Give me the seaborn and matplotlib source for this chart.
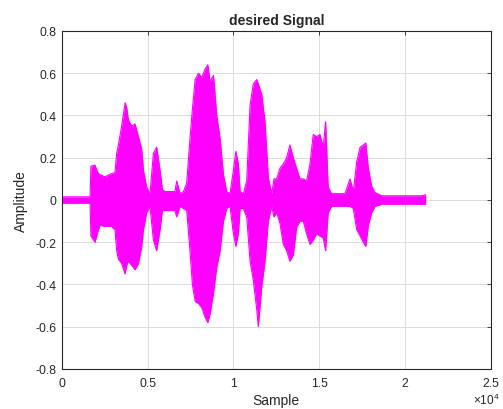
import matplotlib
matplotlib.use("Agg")
import matplotlib.pyplot as plt
import seaborn as sns
import numpy as np
import pandas as pd

# envelope of the waveform (sample index, upper / lower amplitude)
sample = [0, 1650, 1700, 1940, 2100, 2230, 2520, 2900, 3100, 3200, 3300, 3490,
          3690, 3780, 3880, 4080, 4270, 4470, 4660, 4760, 4950, 5140, 5340, 5530,
          5730, 5860, 6010, 6590, 6700, 6890, 7090, 7280, 7480, 7610, 7771, 7965,
          8160, 8350, 8510, 8640, 8840, 9030, 9225, 9420, 9610, 9800, 10000, 10140,
          10290, 10390, 10580, 10775, 10970, 11160, 11360, 11450, 11650, 11840, 12035, 12230,
          12365, 12520, 12710, 12905, 13100, 13290, 13490, 13680, 13875, 14070, 14260, 14460,
          14650, 14845, 15040, 15230, 15370, 15520, 15720, 16500, 16790, 16985, 17180, 17380,
          17570, 17710, 17860, 18055, 18250, 18640, 20970, 21200]
upper = [0.015, 0.015, 0.16, 0.165, 0.13, 0.12, 0.11, 0.125, 0.13, 0.22, 0.26, 0.35,
         0.46, 0.44, 0.38, 0.35, 0.36, 0.30, 0.24, 0.14, 0.06, 0.03, 0.22, 0.25,
         0.14, 0.05, 0.04, 0.04, 0.09, 0.03, 0.04, 0.08, 0.30, 0.43, 0.57, 0.60,
         0.58, 0.62, 0.64, 0.56, 0.59, 0.40, 0.29, 0.12, 0.04, 0.03, 0.14, 0.23,
         0.17, 0.04, 0.03, 0.09, 0.45, 0.55, 0.57, 0.55, 0.50, 0.37, 0.105, 0.03,
         0.10, 0.10, 0.15, 0.17, 0.20, 0.26, 0.20, 0.15, 0.10, 0.10, 0.09, 0.17,
         0.31, 0.30, 0.31, 0.25, 0.37, 0.06, 0.03, 0.03, 0.10, 0.04, 0.18, 0.25,
         0.26, 0.27, 0.15, 0.065, 0.035, 0.02, 0.02, 0.025]
lower = [-0.015, -0.015, -0.17, -0.20, -0.15, -0.12, -0.125, -0.125, -0.14, -0.24, -0.28, -0.30,
         -0.35, -0.31, -0.29, -0.31, -0.33, -0.30, -0.22, -0.14, -0.06, -0.03, -0.19, -0.24,
         -0.14, -0.05, -0.05, -0.05, -0.08, -0.03, -0.04, -0.05, -0.25, -0.40, -0.48, -0.49,
         -0.51, -0.555, -0.58, -0.54, -0.44, -0.32, -0.24, -0.10, -0.04, -0.03, -0.16, -0.22,
         -0.16, -0.04, -0.04, -0.08, -0.29, -0.38, -0.52, -0.60, -0.41, -0.29, -0.10, -0.03,
         -0.08, -0.06, -0.11, -0.21, -0.24, -0.29, -0.26, -0.13, -0.10, -0.10, -0.16, -0.21,
         -0.19, -0.16, -0.17, -0.18, -0.24, -0.06, -0.03, -0.03, -0.03, -0.04, -0.14, -0.17,
         -0.20, -0.22, -0.12, -0.06, -0.03, -0.02, -0.02, -0.02]

xticks = [0, 5000, 10000, 15000, 20000, 25000]
yticks = [-0.8, -0.6, -0.4, -0.2, 0, 0.2, 0.4, 0.6, 0.8]

sns.set_style("white")
plt.rcParams['font.family'] = ['Liberation Sans', 'DejaVu Sans']
plt.rcParams['axes.unicode_minus'] = False
plt.rcParams['mathtext.fontset'] = 'custom'
plt.rcParams['mathtext.rm'] = 'Liberation Sans'

fig = plt.figure(figsize=(5.03, 4.10), dpi=100)
ax = fig.add_axes([0.1227, 0.0976, 0.976 - 0.1227, 0.922 - 0.0976])

df = pd.DataFrame({'Sample': sample + sample,
                   'Amplitude': upper + lower,
                   'edge': ['upper'] * len(sample) + ['lower'] * len(sample)})

ax.fill_between(sample, lower, upper, color='#ff00ff', linewidth=0)
sns.lineplot(data=df, x='Sample', y='Amplitude', units='edge', estimator=None,
             color='#ff00ff', linewidth=0.8, ax=ax, legend=False)

ax.set_xlim(0, 25000)
ax.set_ylim(-0.8, 0.8)
ax.set_xticks(xticks)
ax.set_xticklabels(['%g' % (t / 1e4) for t in xticks])
ax.set_yticks(yticks)
ax.set_yticklabels(['%g' % t for t in yticks])

ax.grid(True, color='#dcdcdc', linewidth=0.7)
ax.set_axisbelow(True)
for sp in ax.spines.values():
    sp.set_color('#262626')
    sp.set_linewidth(0.8)
ax.tick_params(direction='in', length=3, width=0.6, colors='#262626',
               labelsize=8.8, top=True, right=True)
ax.tick_params(axis='x', pad=6)
ax.tick_params(axis='y', pad=4)

ax.set_xlabel('Sample', fontsize=10, color='#262626', labelpad=3)
ax.set_ylabel('Amplitude', fontsize=10, color='#262626', labelpad=5)
ax.set_title('desired Signal', fontsize=10, fontweight='bold', pad=5)
ax.text(1.02, -0.103, r'$\times\mathrm{10}^{\mathrm{4}}$', transform=ax.transAxes,
        ha='right', va='baseline', fontsize=8.5, color='#262626')

fig.savefig('out.png', dpi=100)
